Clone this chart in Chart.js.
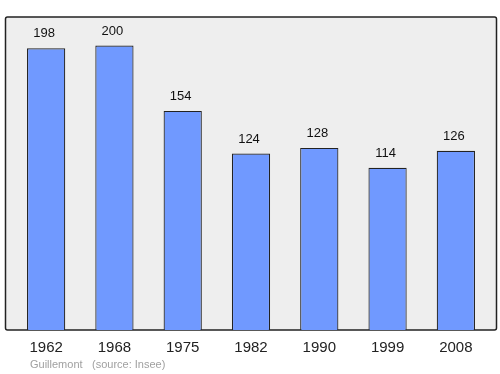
<!DOCTYPE html>
<html>
<head>
<meta charset="utf-8">
<script src="https://cdn.jsdelivr.net/npm/chart.js@4/dist/chart.umd.min.js"></script>
<style>
  html, body { margin: 0; padding: 0; background: #fff; }
  #wrap { width: 500px; height: 374px; }
</style>
</head>
<body>
<div id="wrap"><canvas id="pop" width="500" height="374"></canvas></div>
<script>
const years = ['1962', '1968', '1975', '1982', '1990', '1999', '2008'];
const population = [198, 200, 154, 124, 128, 114, 126];
const yMax = 220;
const footerName = 'Guillemont';
const footerSource = '(source: Insee)';

// fond gris + cadre, légèrement plus large que la zone des barres
const frame = {
  id: 'frame',
  beforeDatasetsDraw(chart) {
    const { ctx, chartArea: a } = chart;
    const l = 5.5, r = 496.5;
    ctx.save();
    ctx.fillStyle = '#eeeeee';
    ctx.strokeStyle = '#222';
    ctx.lineWidth = 1.5;
    ctx.beginPath();
    ctx.roundRect(l, a.top, r - l, a.bottom - a.top, 2);
    ctx.fill();
    ctx.stroke();
    ctx.restore();
  },
  afterDatasetsDraw(chart) {
    const { ctx } = chart;
    const meta = chart.getDatasetMeta(0);
    ctx.save();
    ctx.fillStyle = '#111';
    ctx.font = '13px "Liberation Sans", Arial, sans-serif';
    ctx.textAlign = 'center';
    ctx.textBaseline = 'bottom';
    meta.data.forEach((bar, i) => {
      ctx.fillText(String(population[i]), bar.x - 2, bar.y - 8);
    });
    // pied de page
    ctx.fillStyle = '#a0a0a0';
    ctx.font = '11px "Liberation Sans", Arial, sans-serif';
    ctx.textAlign = 'left';
    ctx.textBaseline = 'middle';
    ctx.fillText(footerName, 30, 365);
    ctx.fillText(footerSource, 92, 365);
    ctx.restore();
  }
};

new Chart(document.getElementById('pop'), {
  type: 'bar',
  data: {
    labels: years,
    datasets: [{
      data: population,
      backgroundColor: '#7099ff',
      borderColor: '#222',
      borderWidth: 1.2,
      barPercentage: 0.56,
      categoryPercentage: 1
    }]
  },
  options: {
    responsive: false,
    animation: false,
    layout: { padding: { top: 17, left: 12, right: 10, bottom: 0 } },
    plugins: { legend: { display: false }, tooltip: { enabled: false } },
    scales: {
      y: { display: false, min: 0, max: yMax },
      x: {
        grid: { display: false, drawTicks: false },
        border: { display: false },
        ticks: { color: '#222', font: { size: 15, family: '"Liberation Sans", Arial, sans-serif' }, padding: 9 },
        afterFit: s => { s.height = 44; }
      }
    }
  },
  plugins: [frame]
});
</script>
</body>
</html>
